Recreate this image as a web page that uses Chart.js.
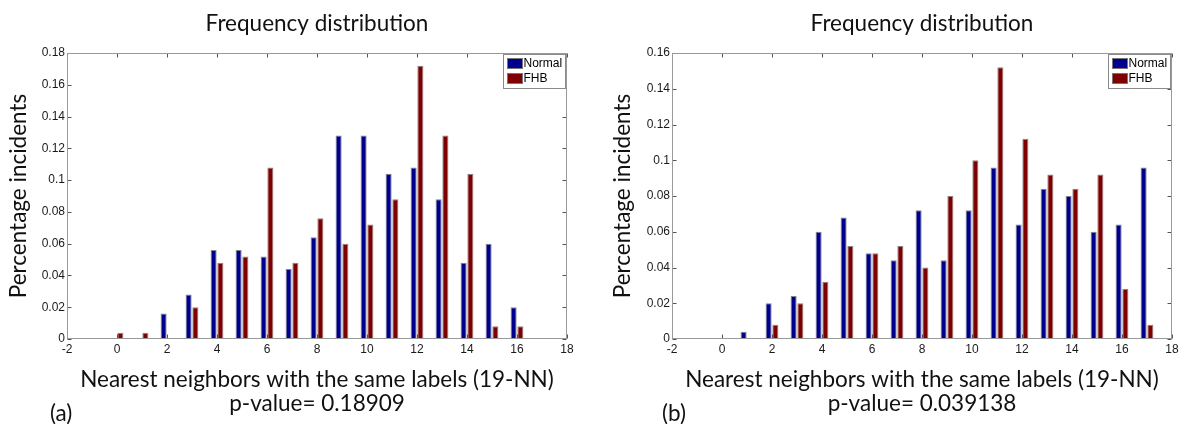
<!DOCTYPE html>
<html>
<head>
<meta charset="utf-8">
<script src="https://cdn.jsdelivr.net/npm/chart.js@4.4.1/dist/chart.umd.min.js"></script>
<style>
  body { margin: 0; background: #fff; }
  #wrap { position: relative; width: 1183px; height: 424px; overflow: hidden; }
  canvas { position: absolute; top: 0; }
  .tag { position: absolute; font: 22.5px Lato, sans-serif; color: #111; line-height: 24px; }
</style>
</head>
<body>
<div id="wrap">
  <canvas id="chartA" width="591" height="424" style="left:0"></canvas>
  <canvas id="chartB" width="592" height="424" style="left:591px"></canvas>
  <div class="tag" style="left:50px;top:401px">(a)</div>
  <div class="tag" style="left:662px;top:401px">(b)</div>
</div>
<script>
// panel (a)
const neighborsA = [0, 1, 2, 3, 4, 5, 6, 7, 8, 9, 10, 11, 12, 13, 14, 15, 16];
const normalA = [0, 0, 0.016, 0.028, 0.056, 0.056, 0.052, 0.044, 0.064, 0.128, 0.128, 0.104, 0.108, 0.088, 0.048, 0.06, 0.02];
const fhbA = [0.004, 0.004, 0, 0.02, 0.048, 0.052, 0.108, 0.048, 0.076, 0.06, 0.072, 0.088, 0.172, 0.128, 0.104, 0.008, 0.008];

// panel (b)
const neighborsB = [0, 1, 2, 3, 4, 5, 6, 7, 8, 9, 10, 11, 12, 13, 14, 15, 16, 17];
const normalB = [0, 0.004, 0.02, 0.024, 0.06, 0.068, 0.048, 0.044, 0.072, 0.044, 0.072, 0.096, 0.064, 0.084, 0.08, 0.06, 0.064, 0.096];
const fhbB = [0, 0, 0.008, 0.02, 0.032, 0.052, 0.048, 0.052, 0.04, 0.08, 0.1, 0.152, 0.112, 0.092, 0.084, 0.092, 0.028, 0.008];

const seriesNames = ['Normal', 'FHB'];
const seriesColors = ['#00008f', '#7f0000'];
const xMin = -2, xMax = 18, xStep = 2;
const yStep = 0.02;

const titleFont = { family: 'Lato', size: 22.5, weight: 'normal' };
const tickFont = { family: 'Liberation Sans', size: 12 };

// MATLAB-like box with inward ticks on all four sides
const matlabFrame = {
  id: 'matlabFrame',
  afterDatasetsDraw(chart) {
    const { ctx, chartArea: a, scales: { x, y } } = chart;
    const L = Math.round(a.left) + 0.5, R = Math.round(a.right) - 0.5;
    const T = Math.round(a.top) + 0.5, B = Math.round(a.bottom) - 0.5;
    ctx.save();
    ctx.lineWidth = 1;
    ctx.strokeStyle = '#555';
    ctx.beginPath();
    x.ticks.forEach(t => {
      const px = Math.round(x.getPixelForValue(t.value)) + 0.5;
      ctx.moveTo(px, B); ctx.lineTo(px, B - 4);
      ctx.moveTo(px, T); ctx.lineTo(px, T + 4);
    });
    y.ticks.forEach(t => {
      const py = Math.round(y.getPixelForValue(t.value)) + 0.5;
      ctx.moveTo(L, py); ctx.lineTo(L + 4, py);
      ctx.moveTo(R, py); ctx.lineTo(R - 4, py);
    });
    ctx.stroke();
    ctx.strokeStyle = '#999';
    ctx.strokeRect(L, T, R - L, B - T);
    ctx.restore();
  }
};

// legend box in the top right corner of the plot
const boxLegend = {
  id: 'boxLegend',
  afterDraw(chart) {
    const { ctx, chartArea: a } = chart;
    const w = 62, h = 34;
    const x0 = Math.round(a.right) - w - 1.5, y0 = Math.round(a.top) + 1.5;
    ctx.save();
    ctx.fillStyle = '#fff';
    ctx.fillRect(x0, y0, w, h);
    ctx.strokeStyle = '#8a8a8a';
    ctx.strokeRect(x0, y0, w, h);
    ctx.font = '12px "Liberation Sans"';
    ctx.textBaseline = 'middle';
    chart.data.datasets.forEach((ds, i) => {
      const sy = y0 + 4 + i * 15;
      ctx.fillStyle = ds.backgroundColor;
      ctx.fillRect(x0 + 4, sy, 15, 10);
      ctx.strokeStyle = '#777';
      ctx.strokeRect(x0 + 4, sy, 15, 10);
      ctx.fillStyle = '#000';
      ctx.fillText(ds.label, x0 + 20, sy + 5.5);
    });
    ctx.restore();
  }
};

function makeChart(id, xs, normal, fhb, yMax, pText, yWidth, yTitlePad, rightPad) {
  const values = [normal, fhb];
  return new Chart(document.getElementById(id), {
    type: 'bar',
    data: {
      datasets: seriesNames.map((name, i) => ({
        label: name,
        data: xs.map((v, j) => ({ x: v, y: values[i][j] })),
        backgroundColor: seriesColors[i],
        borderColor: 'rgba(120,120,120,0.9)',
        borderWidth: 1,
        borderSkipped: 'start',
        barPercentage: 0.9,
        categoryPercentage: 0.54
      }))
    },
    options: {
      responsive: false,
      animation: false,
      layout: { padding: { left: 0, right: rightPad, top: 0, bottom: 0 } },
      plugins: {
        legend: { display: false },
        tooltip: { enabled: false },
        title: {
          display: true,
          text: 'Frequency distribution',
          fullSize: false,
          color: '#111',
          font: { ...titleFont, lineHeight: 1.2 },
          padding: { top: 10.5, bottom: 15.5 }
        }
      },
      scales: {
        x: {
          type: 'linear',
          min: xMin,
          max: xMax,
          offset: false,
          grid: { display: false, drawTicks: false },
          border: { display: false },
          ticks: { stepSize: xStep, padding: 3, color: '#1a1a1a', font: tickFont, maxRotation: 0 },
          title: {
            display: true,
            text: ['Nearest neighbors with the same labels (19-NN)', pText],
            color: '#111',
            font: { ...titleFont, lineHeight: 1.1 },
            padding: { top: 0, bottom: 7.5 }
          },
          afterFit: s => { s.height = 85; }
        },
        y: {
          min: 0,
          max: yMax,
          grid: { display: false, drawTicks: false },
          border: { display: false },
          ticks: {
            stepSize: yStep,
            padding: 2,
            color: '#1a1a1a',
            font: tickFont,
            callback: v => String(+v.toFixed(2))
          },
          title: {
            display: true,
            text: 'Percentage incidents',
            color: '#111',
            font: { ...titleFont, lineHeight: 1.2 },
            padding: { top: yTitlePad, bottom: 0 }
          },
          afterFit: s => { s.width = yWidth; }
        }
      }
    },
    plugins: [matlabFrame, boxLegend]
  });
}

makeChart('chartA', neighborsA, normalA, fhbA, 0.18, 'p-value= 0.18909', 67, 5.5, 24);
makeChart('chartB', neighborsB, normalB, fhbB, 0.16, 'p-value= 0.039138', 81, 18, 11);
</script>
</body>
</html>
